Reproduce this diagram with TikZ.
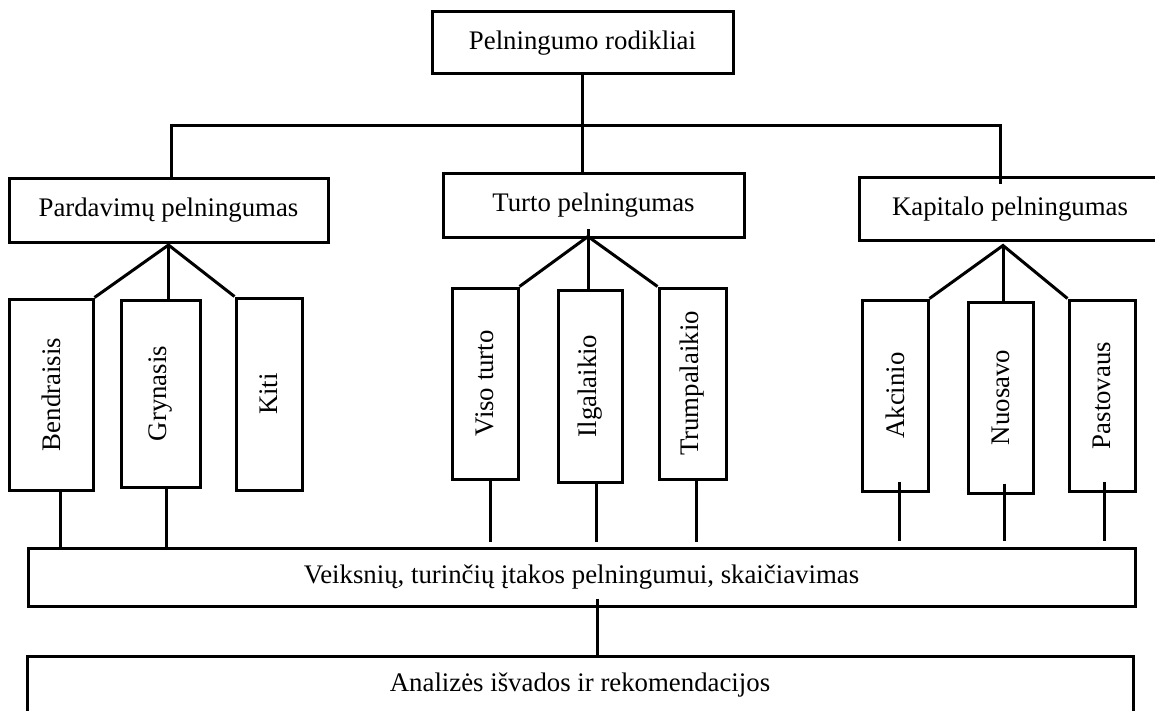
\documentclass[tikz,border=0pt]{standalone}
\usepackage{fontspec}
\setmainfont{Liberation Serif}
\begin{document}
\begin{tikzpicture}[-,x=0.5pt,y=-0.5pt,line width=1.5pt,
    main node/.style={rectangle,draw,inner sep=0pt,font=\fontsize{13.4}{16}\selectfont},
    sub node/.style={main node,minimum height=95.5pt}]
\useasboundingbox (0,0) rectangle (1155,711);
% top levels
\node [main node, minimum width=150.5pt, minimum height=31pt] (top) at (582.5,43) {Pelningumo rodikliai};
\node [main node, minimum width=159.5pt, minimum height=31.5pt] (pard) at (168.5,210.5) {Pardavimų pelningumas};
\node [main node, minimum width=150.5pt, minimum height=31.5pt] (turto) at (593.5,205.5) {Turto pelningumas};
\node [main node, minimum width=151pt, minimum height=31pt] (kap) at (1010,209) {Kapitalo pelningumas};
% rodikliai
\node [sub node, minimum width=42pt] (bend) at (51,394.5) {\rotatebox{90}{Bendraisis}};
\node [sub node, minimum width=39.5pt, minimum height=93.5pt] (gryn) at (160.5,393.5) {\rotatebox{90}{Grynasis}};
\node [sub node, minimum width=33pt, minimum height=96pt] (kiti) at (269,394) {\rotatebox{90}{Kiti}};
\node [sub node, minimum width=33pt] (viso) at (485,383.5) {\rotatebox{90}{Viso turto}};
\node [sub node, minimum width=32pt, minimum height=96pt] (ilg) at (590,386) {\rotatebox{90}{Ilgalaikio}};
\node [sub node, minimum width=33.5pt] (trum) at (692.5,383.5) {\rotatebox{90}{Trumpalaikio}};
\node [sub node, minimum width=33pt] (akc) at (895,395.5) {\rotatebox{90}{Akcinio}};
\node [sub node, minimum width=32.5pt] (nuos) at (1000.5,397.5) {\rotatebox{90}{Nuosavo}};
\node [sub node, minimum width=33pt] (pas) at (1102,395.5) {\rotatebox{90}{Pastovaus}};
% bottom
\node [main node, minimum width=553.5pt, minimum height=29pt] (veik) at (581.5,577) {Veiksnių, turinčių įtakos pelningumui, skaičiavimas};
\node [main node, minimum width=553pt, minimum height=29pt] (anal) at (580,685) {Analizės išvados ir rekomendacijos};

\coordinate (split) at (583,126);
\draw (top.south) -- (top.south |- turto.north);
\draw ([xshift=1.25pt]pard.north) |- (split) -| ([xshift=-5pt,yshift=-4pt]kap.north);

\coordinate (pardA) at ([yshift=-0.75pt]pard.south);
\coordinate (turA) at ([xshift=-2.75pt,yshift=1pt]turto.south);
\coordinate (kapA) at ([xshift=-3.5pt,yshift=-2pt]kap.south);
\draw (bend.north east) -- (pardA) -- (kiti.north west);
\draw (pardA) -- (pardA |- gryn.north);
\draw (viso.north east) -- (turA) -- (trum.north west);
\draw ([yshift=3.5pt]turA) -- (turA |- ilg.north);
\draw (akc.north east) -- (kapA) -- (pas.north west);
\draw (kapA) -- (kapA |- nuos.north);

\draw ([xshift=4.5pt]bend.south) -- ([xshift=4.5pt]bend.south |- veik.north);
\draw ([xshift=2.75pt]gryn.south) -- ([xshift=2.75pt]gryn.south |- veik.north);
\foreach \n/\dx in {viso/2.5pt, ilg/3pt, trum/1.75pt}
    \draw [shorten >=2.5pt] ([xshift=\dx]\n.south) -- ([xshift=\dx]\n.south |- veik.north);
\foreach \n/\dx in {akc/2pt, nuos/1.75pt, pas/1pt}
    \draw [shorten >=2.75pt] ([xshift=\dx,yshift=5.5pt]\n.south) -- ([xshift=\dx]\n.south |- veik.north);
\draw ([xshift=7.75pt,yshift=4.5pt]veik.south) -- ([xshift=7.75pt]veik.south |- anal.north);
\end{tikzpicture}
\end{document}
